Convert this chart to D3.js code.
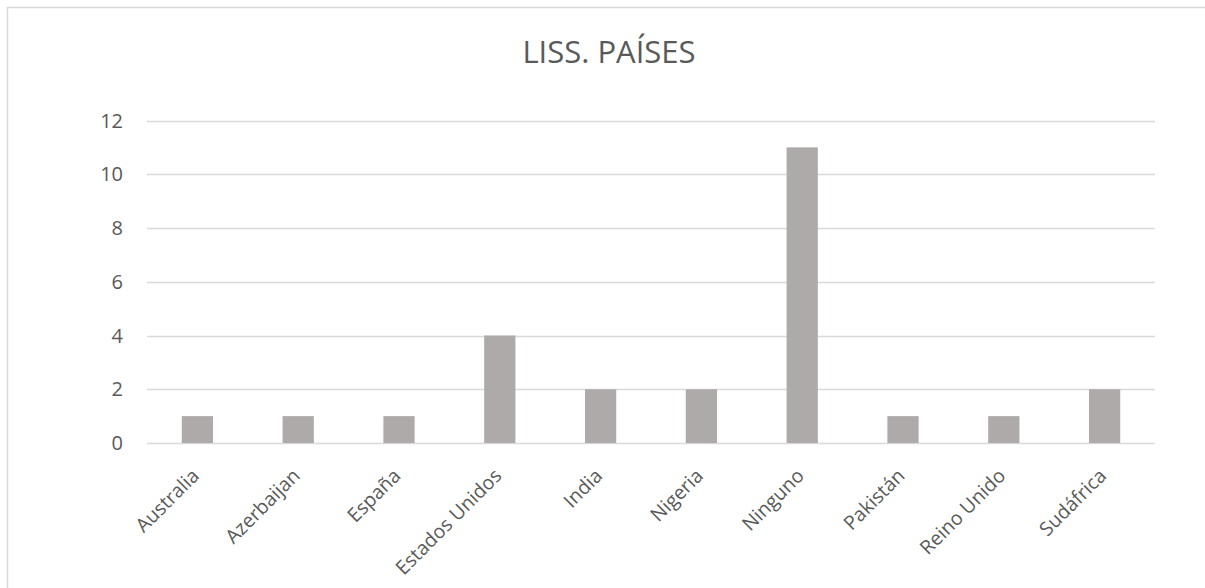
<!DOCTYPE html>
<html><head><meta charset="utf-8">
<script src="https://cdn.jsdelivr.net/npm/d3@7"></script>
<style>body{margin:0;background:#fff}svg{display:block}text{font-family:"Open Sans",sans-serif;fill:#595959}</style>
</head><body><svg id="c" width="1205" height="588"></svg>
<script>
const categories = ["Australia","Azerbaijan","España","Estados Unidos","India","Nigeria","Ninguno","Pakistán","Reino Unido","Sudáfrica"];
const values = [1,1,1,4,2,2,11,1,1,2];
const yTicks = [0,2,4,6,8,10,12];
const title = "LISS. PAÍSES";

const svg = d3.select("#c");
svg.append("rect").attr("x",7.5).attr("y",7.5).attr("width",1220).attr("height",620)
  .attr("fill","#fff").attr("stroke","#d9d9d9").attr("stroke-width",1.5);

const x = d3.scaleBand().domain(categories).range([147,1155]).paddingInner(0.69).paddingOuter(0.345);
const y = d3.scaleLinear().domain([0,12]).range([443,120.5]);

svg.append("g").selectAll("line").data(yTicks).join("line")
  .attr("x1",147).attr("x2",1155).attr("y1",d=>Math.round(y(d))+0.5).attr("y2",d=>Math.round(y(d))+0.5)
  .attr("stroke","#d9d9d9").attr("stroke-width",1.5);

svg.append("g").selectAll("text").data(yTicks).join("text")
  .attr("x",123).attr("y",d=>y(d)).attr("dy","0.35em").attr("text-anchor","end")
  .attr("font-size",20).text(d=>d);

svg.append("g").selectAll("rect").data(values).join("rect")
  .attr("x",(d,i)=>x(categories[i])).attr("width",x.bandwidth())
  .attr("y",d=>y(d)).attr("height",d=>y(0)-y(d)).attr("fill","#aeaaaa");

svg.append("g").selectAll("text").data(categories).join("text")
  .attr("transform",d=>`translate(${x(d)+x.bandwidth()/2+3},${y(0)+34}) rotate(-45)`)
  .attr("text-anchor","end").attr("font-size",19.5).text(d=>d);

svg.append("text").attr("x",609).attr("y",63).attr("text-anchor","middle")
  .attr("font-size",31).text(title);
</script></body></html>
